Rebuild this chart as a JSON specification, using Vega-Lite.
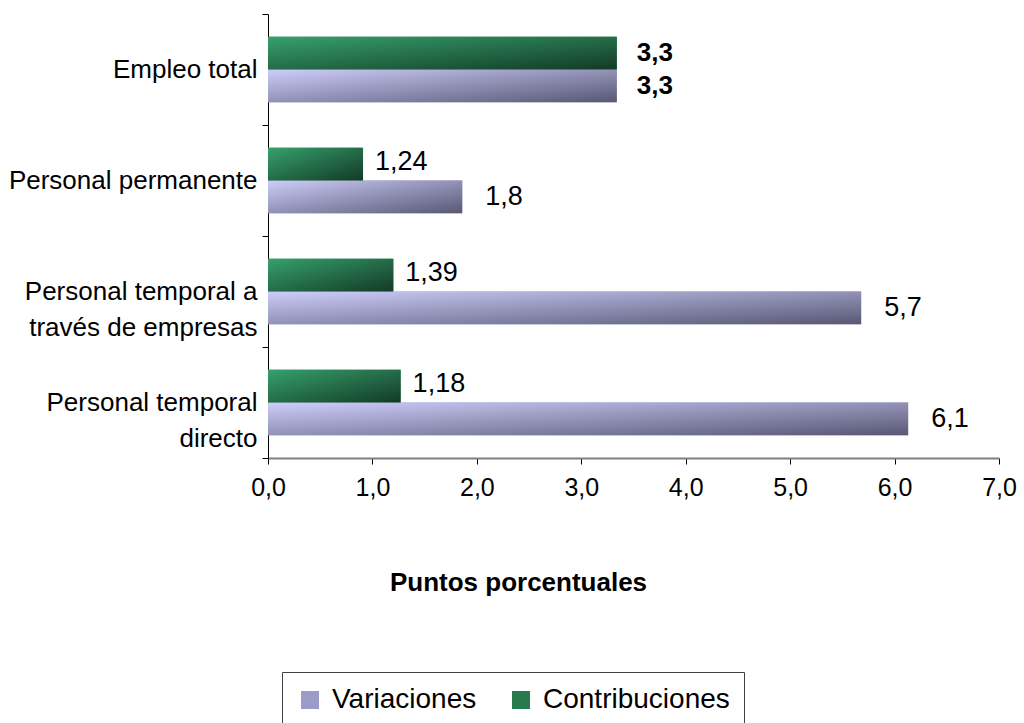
{
  "$schema": "https://vega.github.io/schema/vega-lite/v6.json",
  "width": 731,
  "height": 444,
  "autosize": {"type": "none"},
  "padding": {"left": 268, "top": 14, "right": 25, "bottom": 265},
  "background": "white",
  "config": {
    "font": "Liberation Sans",
    "view": {"stroke": null}
  },
  "data": {
    "values": [
      {"categoria": "Empleo total", "serie": "Contribuciones", "valor": 3.34, "etiqueta": "3,3"},
      {"categoria": "Empleo total", "serie": "Variaciones", "valor": 3.34, "etiqueta": "3,3"},
      {"categoria": "Personal permanente", "serie": "Contribuciones", "valor": 0.91, "etiqueta": "1,24"},
      {"categoria": "Personal permanente", "serie": "Variaciones", "valor": 1.86, "etiqueta": "1,8"},
      {"categoria": "Personal temporal a través de empresas", "serie": "Contribuciones", "valor": 1.2, "etiqueta": "1,39"},
      {"categoria": "Personal temporal a través de empresas", "serie": "Variaciones", "valor": 5.68, "etiqueta": "5,7"},
      {"categoria": "Personal temporal directo", "serie": "Contribuciones", "valor": 1.27, "etiqueta": "1,18"},
      {"categoria": "Personal temporal directo", "serie": "Variaciones", "valor": 6.13, "etiqueta": "6,1"}
    ]
  },
  "encoding": {
    "y": {
      "field": "categoria",
      "type": "nominal",
      "sort": ["Empleo total", "Personal permanente", "Personal temporal a través de empresas", "Personal temporal directo"],
      "scale": {"paddingInner": 0, "paddingOuter": 0},
      "axis": {
        "title": null,
        "tickBand": "extent",
        "domainColor": "black",
        "domainWidth": 1,
        "tickColor": "black",
        "tickSize": 6,
        "labelPadding": 5,
        "labelFontSize": 26,
        "labelColor": "black",
        "labelLimit": 0,
        "labelLineHeight": 36,
        "labelExpr": "datum.label == 'Personal temporal a través de empresas' ? ['Personal temporal a', 'través de empresas'] : datum.label == 'Personal temporal directo' ? ['Personal temporal', 'directo'] : datum.label"
      }
    },
    "yOffset": {
      "field": "serie",
      "type": "nominal",
      "sort": ["Contribuciones", "Variaciones"],
      "scale": {"paddingInner": 0, "paddingOuter": 0.7}
    },
    "x": {
      "field": "valor",
      "type": "quantitative",
      "scale": {"domain": [0, 7], "nice": false},
      "axis": {
        "title": "Puntos porcentuales",
        "titleFontSize": 26,
        "titleFontWeight": "bold",
        "titleColor": "black",
        "titleX": 250,
        "titleY": 124,
        "titleBaseline": "middle",
        "titleAlign": "center",
        "values": [0, 1, 2, 3, 4, 5, 6, 7],
        "labelExpr": "replace(format(datum.value, '.1f'), '.', ',')",
        "labelFontSize": 25,
        "labelColor": "black",
        "labelPadding": 11,
        "labelFlush": false,
        "domainColor": "#808080",
        "domainWidth": 2,
        "tickColor": "black",
        "tickSize": 6,
        "grid": false
      }
    }
  },
  "layer": [
    {
      "mark": {"type": "bar"},
      "encoding": {
        "color": {
          "field": "serie",
          "type": "nominal",
          "sort": ["Variaciones", "Contribuciones"],
          "scale": {"domain": ["Variaciones", "Contribuciones"], "range": ["#9c9cc8", "#267a4e"]},
          "legend": {
            "title": null,
            "orient": "none",
            "direction": "horizontal",
            "legendX": 14,
            "legendY": 658,
            "strokeColor": "#404040",
            "padding": 14,
            "symbolType": "square",
            "symbolSize": 324,
            "symbolStrokeWidth": 0,
            "labelFontSize": 28,
            "labelColor": "black",
            "labelLimit": 0,
            "columnPadding": 30,
            "labelOffset": 8
          }
        }
      }
    },
    {
      "transform": [{"filter": "datum.serie == 'Variaciones'"}],
      "mark": {
        "type": "bar",
        "color": {
          "gradient": "linear",
          "x1": 0, "y1": 0, "x2": 1, "y2": 1,
          "stops": [
            {"offset": 0, "color": "#cdcdfb"},
            {"offset": 1, "color": "#585874"}
          ]
        }
      }
    },
    {
      "transform": [{"filter": "datum.serie == 'Contribuciones'"}],
      "mark": {
        "type": "bar",
        "color": {
          "gradient": "linear",
          "x1": 0, "y1": 0, "x2": 1, "y2": 1,
          "stops": [
            {"offset": 0, "color": "#36a06c"},
            {"offset": 1, "color": "#133a26"}
          ]
        }
      }
    },
    {
      "transform": [{"filter": "datum.categoria == 'Empleo total'"}],
      "mark": {"type": "text", "align": "left", "baseline": "middle", "dx": 20, "fontSize": 26, "fontWeight": "bold", "color": "black"},
      "encoding": {"text": {"field": "etiqueta"}}
    },
    {
      "transform": [{"filter": "datum.categoria != 'Empleo total' && datum.serie == 'Contribuciones'"}],
      "mark": {"type": "text", "align": "left", "baseline": "middle", "dx": 12, "dy": -2, "fontSize": 27, "color": "black"},
      "encoding": {"text": {"field": "etiqueta"}}
    },
    {
      "transform": [{"filter": "datum.categoria != 'Empleo total' && datum.serie == 'Variaciones'"}],
      "mark": {"type": "text", "align": "left", "baseline": "middle", "dx": 23, "fontSize": 27, "color": "black"},
      "encoding": {"text": {"field": "etiqueta"}}
    }
  ]
}
